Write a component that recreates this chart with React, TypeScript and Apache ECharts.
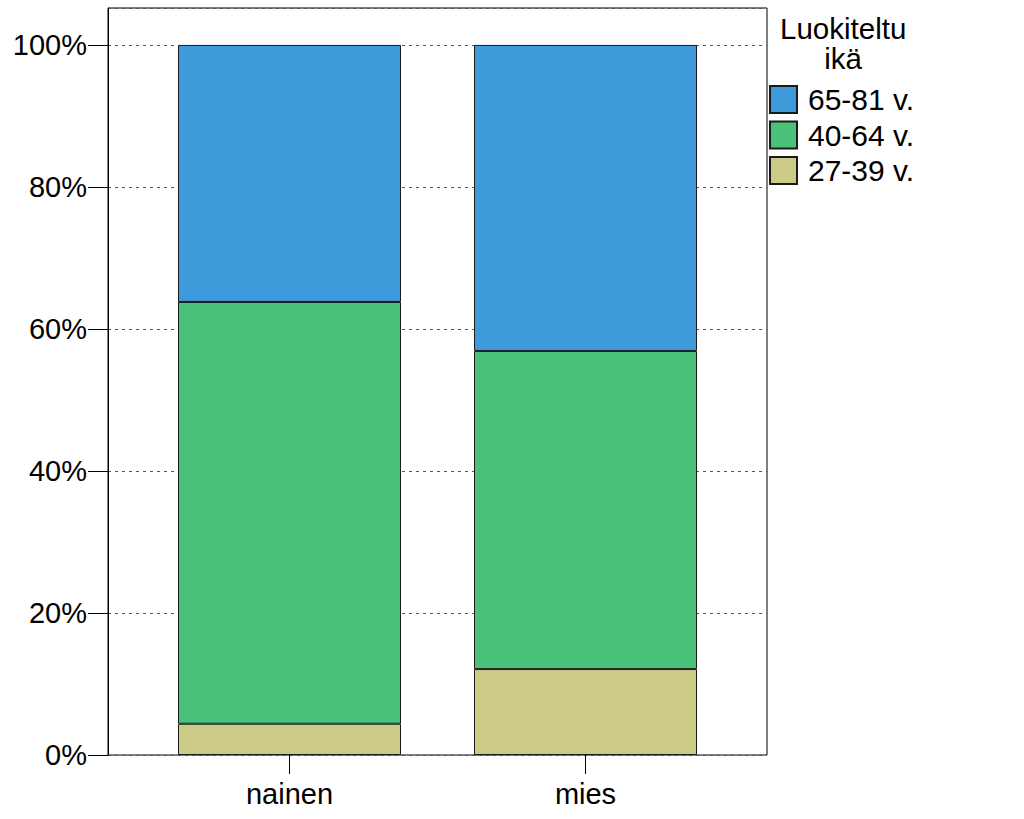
import React, { useEffect, useRef } from "react";
import * as echarts from "echarts";

const categories = ["nainen", "mies"];
const seriesNames = ["27-39 v.", "40-64 v.", "65-81 v."];
const young = [4.4, 12.1];
const middle = [59.4, 44.8];
const old = [36.2, 43.1];
const yTicks = [0, 20, 40, 60, 80, 100];
const legendTitle = "Luokiteltu\nikä";

const colors = ["#CBCB87", "#4BC27A", "#3E9ADB"];

export default function App() {
  const ref = useRef<HTMLDivElement>(null);
  useEffect(() => {
    document.body.style.margin = "0";
    const chart = echarts.init(ref.current!, null, { renderer: "svg" });
    const font = "'Liberation Sans', Arial, sans-serif";
    const values = [young, middle, old];
    const top = 8;
    const bottom = 64;
    chart.setOption({
      animation: false,
      backgroundColor: "#ffffff",
      grid: [
        {
          left: 108,
          right: 257,
          top,
          bottom,
          show: true,
          borderColor: "#000",
          borderWidth: 1,
          backgroundColor: "transparent",
        },
        { left: 141.5, right: 290.5, top, bottom },
      ],
      legend: {
        orient: "vertical",
        left: 769,
        top: 84.5,
        padding: 0,
        itemWidth: 27,
        itemHeight: 27,
        itemGap: 5.5,
        data: [seriesNames[2], seriesNames[1], seriesNames[0]],
        textStyle: {
          fontFamily: font,
          fontSize: 30,
          lineHeight: 27,
          color: "#000",
          padding: [0, 0, 0, 6],
        },
        icon: "rect",
      },
      graphic: [
        {
          type: "text",
          left: 780,
          top: 13,
          style: {
            text: legendTitle,
            font: `29.5px ${font}`,
            fill: "#000",
            textAlign: "center",
            lineHeight: 30,
          },
        },
      ],
      xAxis: [
        {
          type: "category",
          gridIndex: 0,
          data: categories,
          show: false,
        },
        {
          type: "category",
          gridIndex: 1,
          data: categories,
          axisLine: { show: false },
          axisTick: { show: true, alignWithLabel: true, length: 19, lineStyle: { color: "#000" } },
          axisLabel: { fontFamily: font, fontSize: 29, color: "#000", margin: 24 },
        },
      ],
      yAxis: [
        {
          type: "value",
          gridIndex: 0,
          min: 0,
          max: 105.2,
          interval: 20,
          axisLine: { show: true, lineStyle: { color: "#000" } },
          axisTick: { show: true, length: 20, lineStyle: { color: "#000" } },
          axisLabel: {
            fontFamily: font,
            fontSize: 29,
            color: "#000",
            margin: 21,
            formatter: (v: number) => (yTicks.includes(Math.round(v * 1000) / 1000) ? `${v}%` : ""),
            showMaxLabel: false,
          },
          splitLine: { show: true, lineStyle: { color: "#555", type: [3, 4], width: 1 } },
        },
        {
          type: "value",
          gridIndex: 1,
          min: 0,
          max: 105.2,
          show: false,
          splitLine: { show: false },
        },
      ],
      series: seriesNames.map((name, i) => ({
        name,
        type: "bar",
        stack: "total",
        xAxisIndex: 1,
        yAxisIndex: 1,
        barWidth: 223,
        data: values[i],
        itemStyle: { color: colors[i], borderColor: "#1a1a1a", borderWidth: 1 },
      })),
    });
    return () => chart.dispose();
  }, []);
  return <div ref={ref} style={{ width: 1024, height: 819 }} />;
}
